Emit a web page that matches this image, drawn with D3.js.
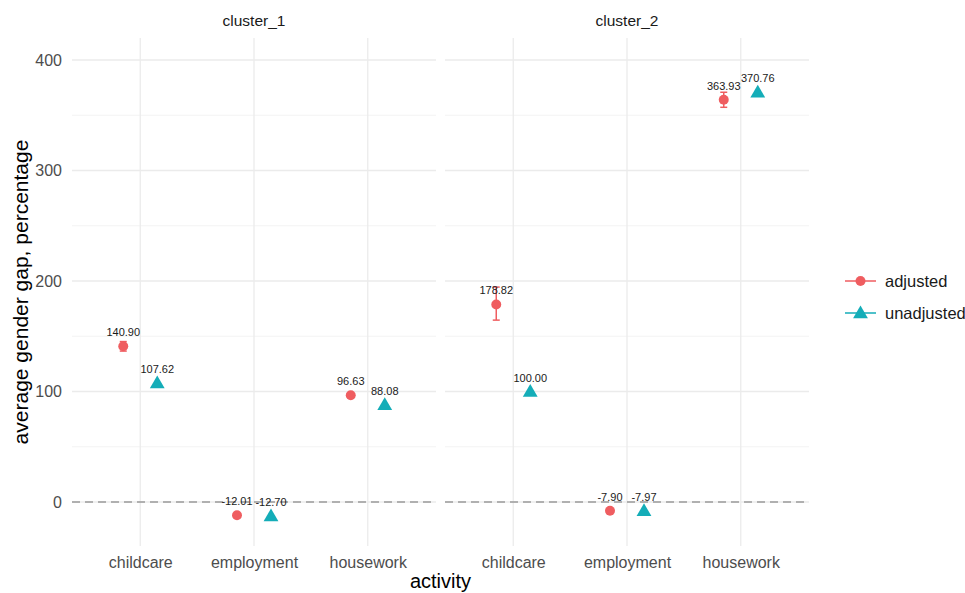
<!DOCTYPE html>
<html>
<head>
<meta charset="utf-8">
<script src="https://cdn.jsdelivr.net/npm/d3@7"></script>
<style>
  html, body { margin: 0; padding: 0; background: #ffffff; }
  svg { display: block; font-family: "Liberation Sans", Arial, Helvetica, sans-serif; }
</style>
</head>
<body>
<svg id="chart" width="965" height="593"></svg>
<script>
// Facets, categories and series
const clusters = ["cluster_1", "cluster_2"];
const activities = ["childcare", "employment", "housework"];
const seriesNames = ["adjusted", "unadjusted"];

// Adjusted estimates with their confidence bounds, per cluster
const adjustedC1 = [140.90, -12.01, 96.63];
const adjustedC2 = [178.82, -7.90, 363.93];
const adjustedLowC1 = [136.6, -13.2, 95.3];
const adjustedLowC2 = [164.6, -9.0, 357.2];
const adjustedHighC1 = [145.2, -10.8, 98.0];
const adjustedHighC2 = [194.5, -6.8, 370.8];

// Raw (unadjusted) gaps, per cluster
const unadjustedC1 = [107.62, -12.70, 88.08];
const unadjustedC2 = [100.00, -7.97, 370.76];

// Axis ticks
const yMajorTicks = [0, 100, 200, 300, 400];
const yMinorTicks = [-50, 50, 150, 250, 350];

const colors = { adjusted: "#ef5d60", unadjusted: "#14adb8" };

const data = [];
[[adjustedC1, adjustedLowC1, adjustedHighC1, unadjustedC1],
 [adjustedC2, adjustedLowC2, adjustedHighC2, unadjustedC2]].forEach((arrs, ci) => {
  activities.forEach((a, ai) => {
    data.push({ cluster: clusters[ci], activity: a, series: "adjusted",
                value: arrs[0][ai], lo: arrs[1][ai], hi: arrs[2][ai] });
    data.push({ cluster: clusters[ci], activity: a, series: "unadjusted",
                value: arrs[3][ai], lo: null, hi: null });
  });
});

const svg = d3.select("#chart");
const panelTop = 38, panelBottom = 546;
const panelLefts = [72, 445];
const panelWidth = 364;

const y = d3.scaleLinear().domain([-39.8, 419.9]).range([panelBottom, panelTop]);
const dodgeOffset = s => s === "adjusted" ? -17 : 17;

const triangle = d3.symbol().type(d3.symbolTriangle).size(95);
const circle = d3.symbol().type(d3.symbolCircle).size(78);

clusters.forEach((cl, ci) => {
  const x0 = panelLefts[ci];
  const x = d3.scalePoint().domain(activities).range([x0, x0 + panelWidth]).padding(0.6);
  const g = svg.append("g");

  // minor grid
  g.selectAll(".minor").data(yMinorTicks.filter(t => y(t) <= panelBottom)).join("line")
    .attr("x1", x0).attr("x2", x0 + panelWidth)
    .attr("y1", d => y(d)).attr("y2", d => y(d))
    .attr("stroke", "#f3f3f3").attr("stroke-width", 1);
  // major grid
  g.selectAll(".major").data(yMajorTicks).join("line")
    .attr("x1", x0).attr("x2", x0 + panelWidth)
    .attr("y1", d => y(d)).attr("y2", d => y(d))
    .attr("stroke", "#ebebeb").attr("stroke-width", 1.3);
  g.selectAll(".vmajor").data(activities).join("line")
    .attr("x1", d => x(d)).attr("x2", d => x(d))
    .attr("y1", panelTop).attr("y2", panelBottom)
    .attr("stroke", "#ebebeb").attr("stroke-width", 1.3);

  // zero reference line
  g.append("line")
    .attr("x1", x0).attr("x2", x0 + panelWidth)
    .attr("y1", y(0)).attr("y2", y(0))
    .attr("stroke", "#9a9a9a").attr("stroke-width", 1.3)
    .attr("stroke-dasharray", "8,5");

  // strip label
  svg.append("text")
    .attr("x", x0 + panelWidth / 2).attr("y", 26)
    .attr("text-anchor", "middle").attr("font-size", 15.5).attr("fill", "#1a1a1a")
    .text(cl);

  // x axis labels
  const xAxis = d3.axisBottom(x).tickSize(0).tickPadding(0);
  const xg = svg.append("g").attr("transform", `translate(0,${panelBottom + 22})`).call(xAxis);
  xg.select(".domain").remove();
  xg.selectAll("text").attr("font-size", 16).attr("fill", "#4d4d4d")
    .attr("dy", 0).attr("font-family", "Liberation Sans, Arial, sans-serif");

  const pd = data.filter(d => d.cluster === cl);
  const px = d => x(d.activity) + dodgeOffset(d.series);

  // error bars
  const eb = g.selectAll(".eb").data(pd.filter(d => d.lo !== null)).join("g")
    .attr("stroke", colors.adjusted).attr("stroke-width", 1.5);
  eb.append("line").attr("x1", px).attr("x2", px)
    .attr("y1", d => y(d.lo)).attr("y2", d => y(d.hi));
  eb.append("line").attr("x1", d => px(d) - 3.5).attr("x2", d => px(d) + 3.5)
    .attr("y1", d => y(d.lo)).attr("y2", d => y(d.lo));
  eb.append("line").attr("x1", d => px(d) - 3.5).attr("x2", d => px(d) + 3.5)
    .attr("y1", d => y(d.hi)).attr("y2", d => y(d.hi));

  // points
  g.selectAll(".pt").data(pd).join("path")
    .attr("transform", d => `translate(${px(d)},${y(d.value) + (d.series === "unadjusted" ? 1 : 0)})`)
    .attr("d", d => d.series === "adjusted" ? circle() : triangle())
    .attr("fill", d => colors[d.series]);

  // value labels
  g.selectAll(".lbl").data(pd).join("text")
    .attr("x", px).attr("y", d => y(d.value) - 10)
    .attr("text-anchor", "middle").attr("font-size", 11).attr("fill", "#1a1a1a")
    .text(d => d.value.toFixed(2));
});

// y axis labels
const yAxis = d3.axisLeft(y).tickValues(yMajorTicks).tickSize(0).tickPadding(0);
const yg = svg.append("g").attr("transform", `translate(62,0)`).call(yAxis);
yg.select(".domain").remove();
yg.selectAll("text").attr("font-size", 16).attr("fill", "#4d4d4d")
  .attr("font-family", "Liberation Sans, Arial, sans-serif");

// axis titles
svg.append("text")
  .attr("transform", `translate(28,${(panelTop + panelBottom) / 2}) rotate(-90)`)
  .attr("text-anchor", "middle").attr("font-size", 21).attr("fill", "#000")
  .text("average gender gap, percentage");
svg.append("text")
  .attr("x", (panelLefts[0] + panelLefts[1] + panelWidth) / 2).attr("y", 588)
  .attr("text-anchor", "middle").attr("font-size", 20).attr("fill", "#000")
  .text("activity");

// legend
const legend = svg.append("g").attr("transform", "translate(845,281)");
seriesNames.forEach((s, i) => {
  const lg = legend.append("g").attr("transform", `translate(0,${i * 32})`);
  lg.append("line").attr("x1", 0).attr("x2", 31).attr("y1", 0).attr("y2", 0)
    .attr("stroke", colors[s]).attr("stroke-width", 1.5);
  lg.append("path").attr("transform", `translate(15.5,${s === "unadjusted" ? 1 : 0})`)
    .attr("d", s === "adjusted" ? circle() : triangle()).attr("fill", colors[s]);
  lg.append("text").attr("x", 40).attr("y", 6).attr("font-size", 16.5).attr("fill", "#1a1a1a")
    .text(s);
});
</script>
</body>
</html>
